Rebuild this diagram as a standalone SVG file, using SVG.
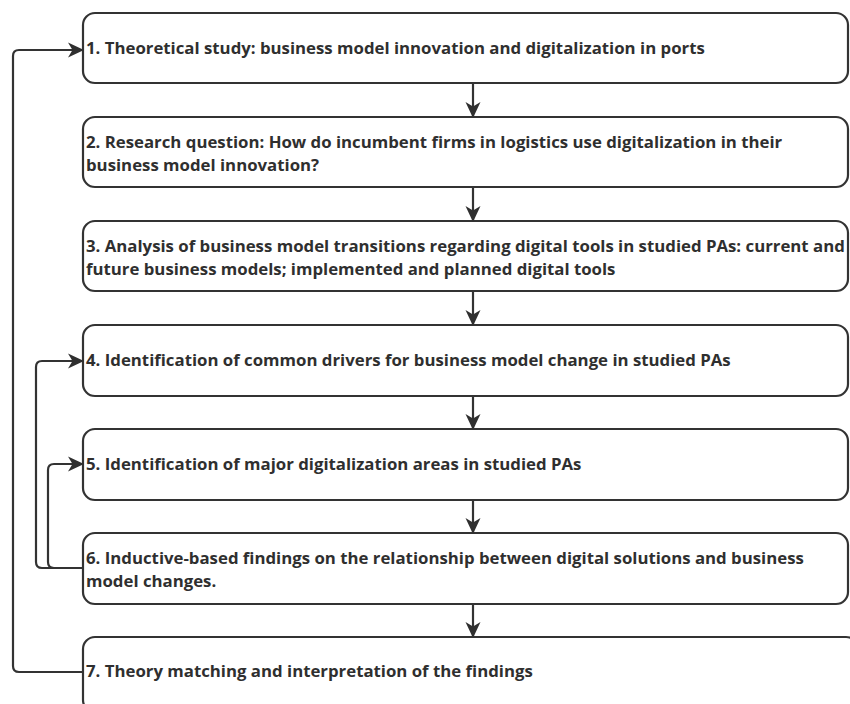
<svg xmlns="http://www.w3.org/2000/svg" width="850" height="704" viewBox="0 0 850 704">
<defs>
<marker id="ah" viewBox="0 0 16 16" refX="15" refY="8" markerWidth="16" markerHeight="16" markerUnits="userSpaceOnUse" orient="auto">
<path d="M0,0.5 L16,8 L0,15.5 L4.5,8 Z" fill="#2f2f2f"/>
</marker>
<style>
.box{fill:#fff;stroke:#333;stroke-width:2.2}
.t{font-family:"Open Sans","Noto Sans",sans-serif;font-weight:bold;font-size:16.8px;fill:#2f2f2f}
.c{fill:none;stroke:#333;stroke-width:2.2;marker-end:url(#ah)}
</style>
</defs>
<rect width="850" height="704" fill="#fff"/>
<g id="n1"><rect class="box" x="83" y="13" width="765" height="70" rx="12"/><text class="t" x="86" y="54">1. Theoretical study: business model innovation and digitalization in ports</text></g>
<g id="n2"><rect class="box" x="83" y="117" width="765" height="70" rx="12"/><text class="t" x="86" y="148">2. Research question: How do incumbent firms in logistics use digitalization in their</text><text class="t" x="86" y="171">business model innovation?</text></g>
<g id="n3"><rect class="box" x="83" y="221" width="765" height="70" rx="12"/><text class="t" x="86" y="252">3. Analysis of business model transitions regarding digital tools in studied PAs: current and</text><text class="t" x="86" y="275">future business models; implemented and planned digital tools</text></g>
<g id="n4"><rect class="box" x="83" y="325" width="765" height="71" rx="12"/><text class="t" x="86" y="366">4. Identification of common drivers for business model change in studied PAs</text></g>
<g id="n5"><rect class="box" x="83" y="429" width="765" height="71" rx="12"/><text class="t" x="86" y="470">5. Identification of major digitalization areas in studied PAs</text></g>
<g id="n6"><rect class="box" x="83" y="533" width="765" height="71" rx="12"/><text class="t" x="86" y="564">6. Inductive-based findings on the relationship between digital solutions and business</text><text class="t" x="86" y="587">model changes.</text></g>
<g id="n7"><rect class="box" x="83" y="637" width="775" height="75" rx="12"/><text class="t" x="86" y="677">7. Theory matching and interpretation of the findings</text></g>
<g id="connectors">
<path class="c" d="M473,83 V117"/>
<path class="c" d="M473,187 V221"/>
<path class="c" d="M473,291 V325"/>
<path class="c" d="M473,396 V429"/>
<path class="c" d="M473,500 V533"/>
<path class="c" d="M473,604 V637"/>
<path class="c" d="M83,672 H19 Q13,672 13,666 V56 Q13,50 19,50 H83"/>
<path class="c" d="M83,568 H42 Q36,568 36,562 V367 Q36,361 42,361 H83"/>
<path class="c" d="M83,568 H54 Q48,568 48,562 V470 Q48,464 54,464 H83"/>
</g>
</svg>
